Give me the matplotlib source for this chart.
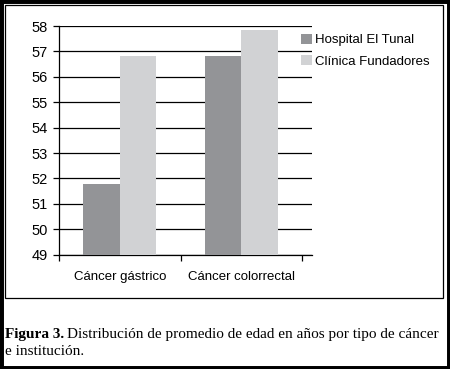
import numpy as np
import matplotlib.pyplot as plt
from matplotlib.patches import Rectangle

# Data
categories = ["Cáncer gástrico", "Cáncer colorrectal"]
hospital_tunal = [51.78, 56.83]
clinica_fundadores = [56.83, 57.83]
series_names = ["Hospital El Tunal", "Clínica Fundadores"]
yticks = list(range(49, 59))

W, H = 450, 369
fig = plt.figure(figsize=(W / 100, H / 100), dpi=100)
plt.rcParams['font.family'] = ['Liberation Sans', 'DejaVu Sans']

# axes placement in pixel coordinates
left, right, top, bottom = 59, 312, 26, 254.7
ax = fig.add_axes([left / W, 1 - bottom / H, (right - left) / W, (bottom - top) / H])

x = np.arange(len(categories))
w = 0.30
ax.bar(x - w / 2, np.array(hospital_tunal) - 49, w, bottom=49, color="#939497",
       label=series_names[0], zorder=3)
ax.bar(x + w / 2, np.array(clinica_fundadores) - 49, w, bottom=49, color="#d1d2d4",
       label=series_names[1], zorder=3)

ax.set_ylim(49, 58)
ax.set_xlim(-0.5, 1.58)
ax.set_yticks(yticks)
ax.yaxis.grid(True, color="black", linewidth=0.9, zorder=0)
ax.set_axisbelow(True)
for s in ["top", "right"]:
    ax.spines[s].set_visible(False)
ax.spines["left"].set_linewidth(0.9)
ax.spines["bottom"].set_linewidth(0.9)

ax.set_xticks([-0.5, 0.5, 1.5])
ax.set_xticklabels([])
ax.set_xticks(x, minor=True)
ax.set_xticklabels(categories, minor=True, fontsize=9.5)
ax.tick_params(axis="x", which="major", direction="out", length=4, width=0.9)
ax.tick_params(axis="x", which="minor", length=0, pad=12)
ax.tick_params(axis="y", direction="out", length=4, width=0.9, labelsize=10.5, pad=4)

leg = ax.legend(loc="upper left", bbox_to_anchor=(0.935, 0.99), frameon=False,
                fontsize=9.5, handlelength=0.85, handleheight=0.85,
                handletextpad=0.25, labelspacing=0.65, borderaxespad=0)

# inner thin frame and outer thick border
fig.patches.append(Rectangle((5 / W, 1 - 298 / H), 438 / W, 293 / H, fill=False,
                             edgecolor="black", linewidth=0.9, transform=fig.transFigure))
fig.patches.append(Rectangle((0, 0), 1, 1, fill=False, edgecolor="black",
                             linewidth=5, transform=fig.transFigure))

# caption
fig.canvas.draw()
r = fig.canvas.get_renderer()
t1 = fig.text(5 / W, 1 - 338 / H, "Figura 3.", family="Liberation Serif",
              fontweight="bold", fontsize=11, va="baseline")
bb = t1.get_window_extent(renderer=r)
fig.text(bb.x1 / W + 3 / W, 1 - 338 / H,
         "Distribución de promedio de edad en años por tipo de cáncer",
         family="Liberation Serif", fontsize=11, va="baseline")
fig.text(5 / W, 1 - 355 / H, "e institución.", family="Liberation Serif",
         fontsize=11, va="baseline")

fig.savefig("out.png", dpi=100)
